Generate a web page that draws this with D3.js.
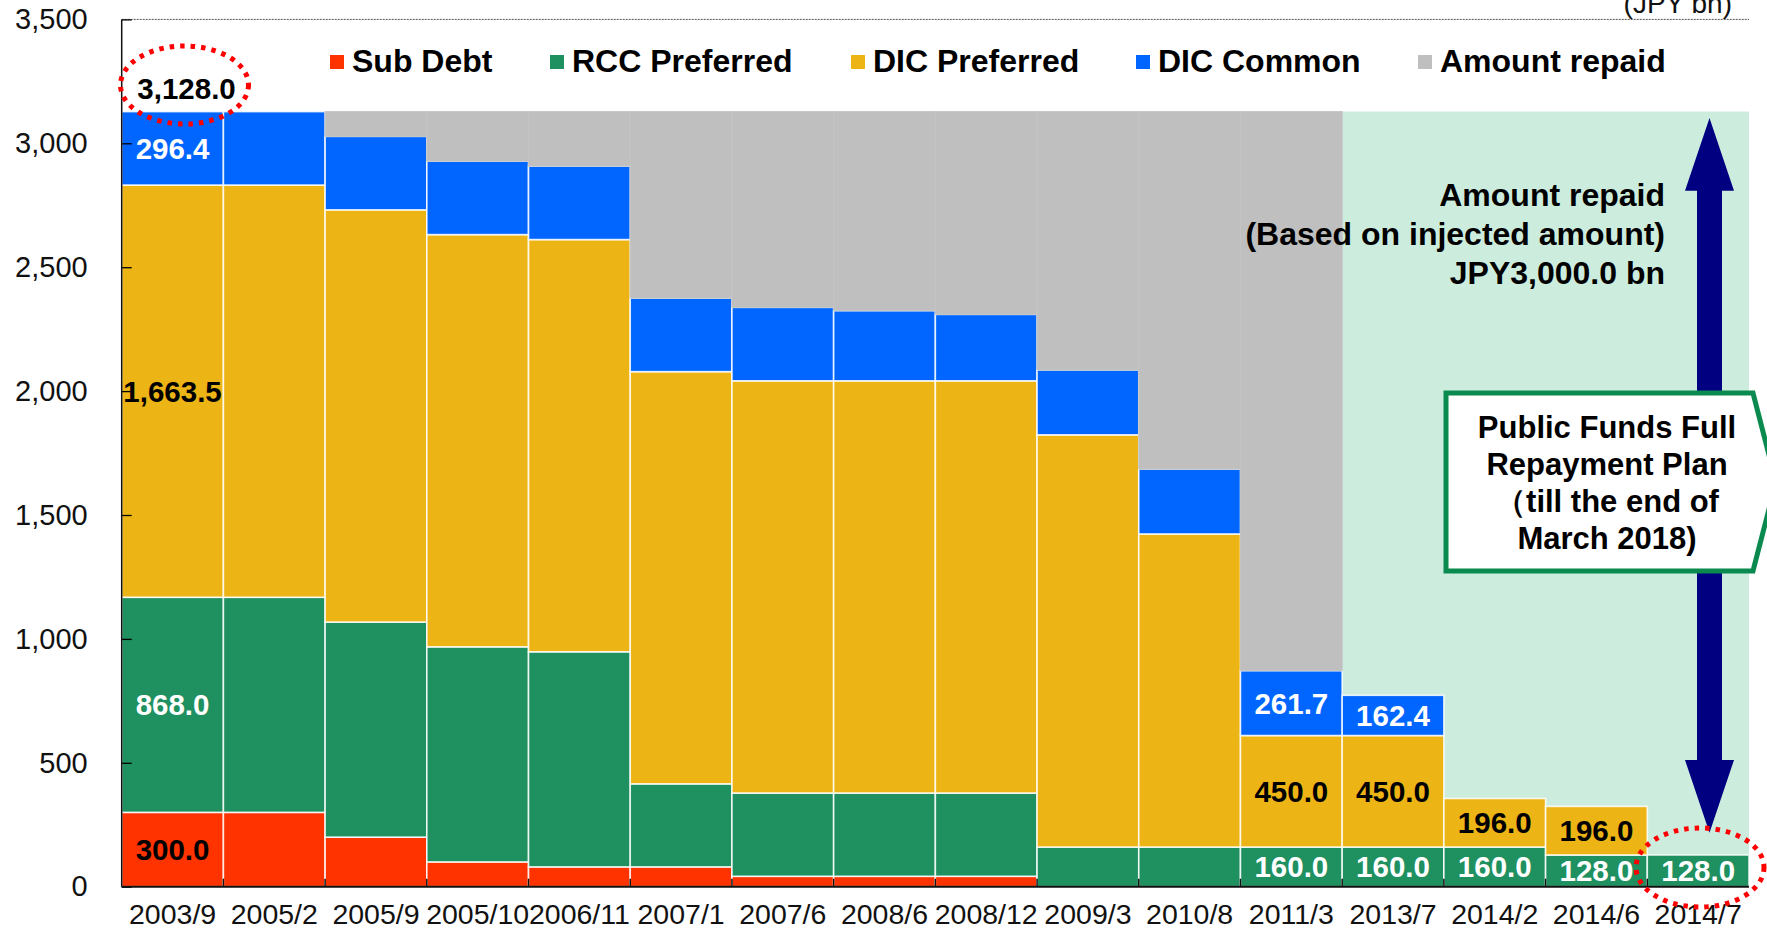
<!DOCTYPE html>
<html>
<head>
<meta charset="utf-8">
<script src="https://cdn.jsdelivr.net/npm/d3@7"></script>
<style>
  html, body { margin: 0; padding: 0; background: #fff; }
  svg { display: block; font-family: "Liberation Sans", Arial, sans-serif; }
</style>
</head>
<body>
<svg id="chart" width="1767" height="930"></svg>
<script>
// ---------------- DATA ----------------
const categories = ["2003/9","2005/2","2005/9","2005/10","2006/11","2007/1","2007/6","2008/6","2008/12","2009/3","2010/8","2011/3","2013/7","2014/2","2014/6","2014/7"];
const subDebt      = [300, 300, 200, 100, 80, 80, 42, 42, 42, 0, 0, 0, 0, 0, 0, 0];
const rccPreferred = [868, 868, 868, 868, 868, 335, 336, 336, 336, 160, 160, 160, 160, 160, 128, 128];
const dicPreferred = [1663.5, 1663.5, 1663.5, 1663.5, 1663.5, 1663.5, 1663.5, 1663.5, 1663.5, 1663.5, 1263.5, 450, 450, 196, 196, 0];
const dicCommon    = [296.4, 296.4, 296.4, 296.4, 296.4, 296.4, 296.4, 283, 268, 261.7, 261.7, 261.7, 162.4, 0, 0, 0];
const amountRepaid = [0, 0, 100, 200, 220, 753, 790, 803.5, 818.5, 1042.8, 1442.8, 2256.3, 0, 0, 0, 0];
const totalInjected = 3128.0;
const planStart = "2013/7";
const yTicks = [0, 500, 1000, 1500, 2000, 2500, 3000, 3500];
const seriesNames = ["Sub Debt", "RCC Preferred", "DIC Preferred", "DIC Common", "Amount repaid"];
// value labels shown: [category, series index]
const valueLabels = [
  ["2003/9", 0], ["2003/9", 1], ["2003/9", 2], ["2003/9", 3],
  ["2011/3", 1], ["2011/3", 2], ["2011/3", 3],
  ["2013/7", 1], ["2013/7", 2], ["2013/7", 3],
  ["2014/2", 1], ["2014/2", 2],
  ["2014/6", 1], ["2014/6", 2],
  ["2014/7", 1]
];

// ---------------- STYLE ----------------
const colors = ["#FF3300", "#1F9060", "#EDB416", "#0066FF", "#BFBFBF"];
const labelColors = ["#000", "#fff", "#000", "#fff"];
const keys = ["sub", "rcc", "dicPref", "dicCommon", "repaid"];

const svg = d3.select("#chart");
const pLeft = 121.7, pRight = 1749, pTop = 19.4, pBottom = 886.7;

const x = d3.scaleBand().domain(categories).range([pLeft, pRight]).padding(0);
const y = d3.scaleLinear().domain([0, 3500]).range([pBottom, pTop]);
const bw = x.bandwidth();

const rows = categories.map((c, i) => ({
  cat: c, sub: subDebt[i], rcc: rccPreferred[i], dicPref: dicPreferred[i],
  dicCommon: dicCommon[i], repaid: amountRepaid[i]
}));
const stacked = d3.stack().keys(keys)(rows);

// mint plan background
svg.append("rect")
  .attr("x", x(planStart)).attr("y", y(totalInjected))
  .attr("width", pRight - x(planStart)).attr("height", y(0) - y(totalInjected))
  .attr("fill", "#CCECDE");

// bars
stacked.forEach((s, si) => {
  svg.append("g").selectAll("rect").data(s.filter(d => d[1] - d[0] > 0)).join("rect")
    .attr("x", d => x(d.data.cat))
    .attr("width", bw)
    .attr("y", d => y(d[1]))
    .attr("height", d => y(d[0]) - y(d[1]))
    .attr("fill", colors[si])
    .attr("stroke", si === 4 ? "#C4C4C4" : "rgba(255,255,255,0.85)")
    .attr("stroke-width", si === 4 ? 1 : 1.6);
});

// top dashed frame line
svg.append("line").attr("x1", pLeft).attr("x2", pRight).attr("y1", y(3500)).attr("y2", y(3500))
  .attr("stroke", "#555").attr("stroke-width", 1).attr("stroke-dasharray", "2,1");

// y axis
const yAxis = d3.axisLeft(y).tickValues(yTicks).tickFormat(d3.format(","))
  .tickSizeInner(-10).tickSizeOuter(0).tickPadding(34);
const gy = svg.append("g").attr("transform", `translate(${pLeft},0)`).call(yAxis);
gy.select(".domain").remove();
gy.selectAll(".tick line").attr("stroke", "#000").attr("stroke-width", 1.3);
gy.selectAll(".tick text").attr("font-size", 29).attr("fill", "#111")
  .attr("font-family", "Liberation Sans, Arial, sans-serif");
svg.append("line").attr("x1", pLeft).attr("x2", pLeft).attr("y1", pTop).attr("y2", pBottom)
  .attr("stroke", "#111").attr("stroke-width", 1.5);

// x axis
const xAxis = d3.axisBottom(x).tickSize(0).tickPadding(17);
const gx = svg.append("g").attr("transform", `translate(0,${pBottom})`).call(xAxis);
gx.select(".domain").remove();
gx.selectAll(".tick text").attr("font-size", 28.5).attr("fill", "#111")
  .attr("font-family", "Liberation Sans, Arial, sans-serif");
svg.append("g").selectAll("line").data(categories.slice(1)).join("line")
  .attr("x1", d => x(d)).attr("x2", d => x(d)).attr("y1", pBottom - 8).attr("y2", pBottom)
  .attr("stroke", "#111").attr("stroke-width", 1.5);
svg.append("line").attr("x1", pLeft).attr("x2", pRight).attr("y1", pBottom).attr("y2", pBottom)
  .attr("stroke", "#111").attr("stroke-width", 2);

// value labels
const fmt = d3.format(",.1f");
valueLabels.forEach(([cat, si]) => {
  const d = stacked[si].find(e => e.data.cat === cat);
  svg.append("text")
    .attr("x", x(cat) + bw / 2)
    .attr("y", (y(d[0]) + y(d[1])) / 2)
    .attr("dy", "0.36em")
    .attr("text-anchor", "middle")
    .attr("font-size", 29.5).attr("font-weight", "bold")
    .attr("fill", labelColors[si])
    .text(fmt(d[1] - d[0]));
});

// total label + ellipse
svg.append("text").attr("x", x(categories[0]) + bw / 2 + 14).attr("y", y(totalInjected) - 23)
  .attr("dy", "0.36em").attr("text-anchor", "middle")
  .attr("font-size", 29.5).attr("font-weight", "bold").attr("fill", "#000")
  .text(fmt(totalInjected));
svg.append("ellipse").attr("cx", 184.5).attr("cy", 85).attr("rx", 64).attr("ry", 39)
  .attr("fill", "none").attr("stroke", "#FF0000").attr("stroke-width", 5)
  .attr("stroke-dasharray", "4.5,6");

// legend
const legendX = [330, 550, 851, 1136, 1418];
seriesNames.forEach((n, i) => {
  svg.append("rect").attr("x", legendX[i]).attr("y", 55).attr("width", 14).attr("height", 14)
    .attr("fill", colors[i]);
  svg.append("text").attr("x", legendX[i] + 22).attr("y", 72)
    .attr("font-size", 32).attr("font-weight", "bold").attr("fill", "#000").text(n);
});

// unit label
svg.append("text").attr("x", 1732).attr("y", 13).attr("text-anchor", "end")
  .attr("font-size", 28).attr("fill", "#111").text("(JPY bn)");

// double arrow
const ax = 1709.5;
svg.append("path")
  .attr("d", `M${ax},118 L${ax + 24.5},190.7 L${ax + 12.5},190.7 L${ax + 12.5},760 L${ax + 24.5},760 L${ax},832.7 L${ax - 24.5},760 L${ax - 12.5},760 L${ax - 12.5},190.7 L${ax - 24.5},190.7 Z`)
  .attr("fill", "#000080");

// annotation text
["Amount repaid", "(Based on injected amount)", "JPY3,000.0 bn"].forEach((t, i) => {
  svg.append("text").attr("x", 1665).attr("y", 206 + i * 39).attr("text-anchor", "end")
    .attr("font-size", 32).attr("font-weight", "bold").attr("fill", "#000").text(t);
});

// plan callout box
svg.append("path")
  .attr("d", "M1446,393 L1753,393 L1776,482 L1753,571 L1446,571 Z")
  .attr("fill", "#fff").attr("stroke", "#0A8A4E").attr("stroke-width", 5);
["Public Funds Full", "Repayment Plan", "（till the end of", "March 2018)"].forEach((t, i) => {
  svg.append("text").attr("x", 1607).attr("y", 438 + i * 37).attr("text-anchor", "middle")
    .attr("font-size", 31).attr("font-weight", "bold").attr("fill", "#000").text(t);
});

// ellipse around last value
svg.append("ellipse").attr("cx", 1700).attr("cy", 867.5).attr("rx", 64).attr("ry", 39.5)
  .attr("fill", "none").attr("stroke", "#FF0000").attr("stroke-width", 5)
  .attr("stroke-dasharray", "4.5,6");
</script>
</body>
</html>
